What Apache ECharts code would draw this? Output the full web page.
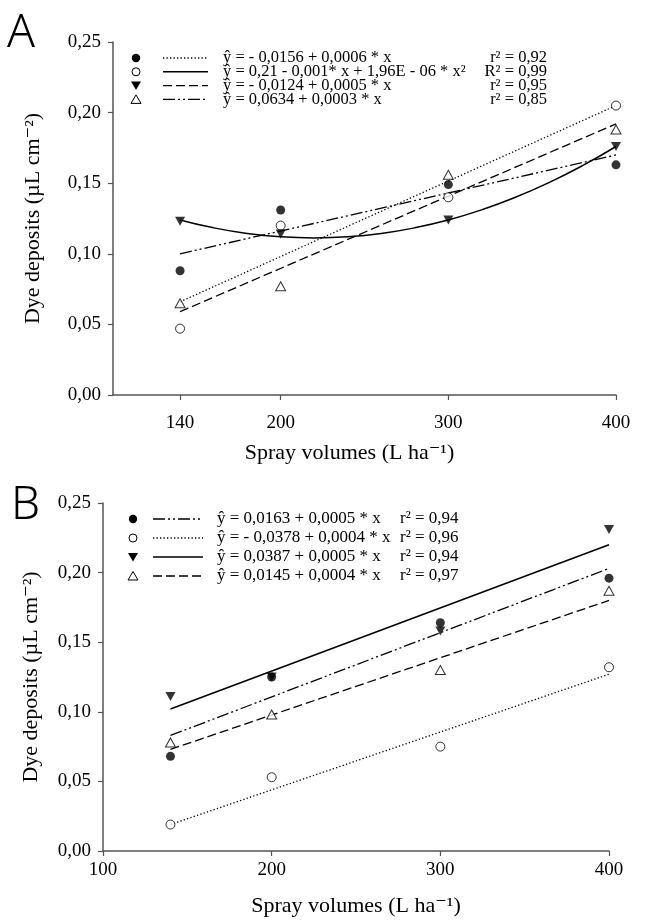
<!DOCTYPE html>
<html>
<head>
<meta charset="utf-8">
<script src="https://cdn.jsdelivr.net/npm/echarts@6/dist/echarts.min.js"></script>
<style>
html,body{margin:0;padding:0;background:#fff;}
#chart{width:650px;height:921px;}
</style>
</head>
<body>
<div id="chart"></div>
<script>
// ---------- DATA ----------
const volumes = [140, 200, 300, 400];
const xTicksA = [140, 200, 300, 400];
const xTicksB = [100, 200, 300, 400];
const yTicks = [0, 0.05, 0.10, 0.15, 0.20, 0.25];

// Panel A observed points
const A_filledCircle = [0.088, 0.131, 0.149, 0.163];
const A_openCircle   = [0.047, 0.120, 0.140, 0.205];
const A_triDown      = [0.123, 0.114, 0.124, 0.176];
const A_triUp        = [0.065, 0.077, 0.156, 0.188];
// Panel A fitted lines (values read at the line ends)
const A_fitX = [140, 400];
const A_fitDotted  = [0.066, 0.205];
const A_fitDashed  = [0.059, 0.192];
const A_fitDashDot = [0.100, 0.170];
// Panel A solid curve
const A_curveX = [140, 160, 180, 200, 220, 240, 260, 280, 300, 320, 340, 360, 380, 400];
const A_curveY = [0.124, 0.1184, 0.1144, 0.112, 0.1112, 0.112, 0.1144, 0.1184, 0.124, 0.1312, 0.140, 0.1504, 0.1624, 0.176];

// Panel B observed points
const B_filledCircle = [0.068, 0.125, 0.164, 0.196];
const B_openCircle   = [0.019, 0.053, 0.075, 0.132];
const B_triDown      = [0.111, 0.125, 0.158, 0.231];
const B_triUp        = [0.078, 0.098, 0.130, 0.187];
// Panel B fitted lines
const B_fitX = [140, 400];
const B_fitDashDot = [0.083, 0.203];
const B_fitDotted  = [0.019, 0.127];
const B_fitSolid   = [0.102, 0.220];
const B_fitDashed  = [0.073, 0.180];

// Legend texts
const legendA = [
  {sym:'fcircle', dash:'dotted',  eq:'ŷ = - 0,0156 + 0,0006 * x', r:'r² = 0,92'},
  {sym:'ocircle', dash:'solid',   eq:'ŷ = 0,21 - 0,001* x + 1,96E - 06 * x²', r:'R² = 0,99'},
  {sym:'tridown', dash:'dashed',  eq:'ŷ = - 0,0124 + 0,0005 * x', r:'r² = 0,95'},
  {sym:'triup',   dash:'dashdot', eq:'ŷ = 0,0634 + 0,0003 * x', r:'r² = 0,85'}
];
const legendB = [
  {sym:'fcircle', dash:'dashdot', eq:'ŷ = 0,0163 + 0,0005 * x', r:'r² = 0,94'},
  {sym:'ocircle', dash:'dotted',  eq:'ŷ = - 0,0378 + 0,0004 * x', r:'r² = 0,96'},
  {sym:'tridown', dash:'solid',   eq:'ŷ = 0,0387 + 0,0005 * x', r:'r² = 0,94'},
  {sym:'triup',   dash:'dashed',  eq:'ŷ = 0,0145 + 0,0004 * x', r:'r² = 0,97'}
];

// ---------- STYLE ----------
const SERIF = '"Liberation Serif", "DejaVu Serif", serif';
const DASH = {
  dotted: [1.3, 2.2],
  solid: 'solid',
  dashed: [9, 4],
  dashdot: [12, 3, 2, 3, 2, 3]
};
const SYM = {
  fcircle: {symbol:'circle', symbolSize:9, itemStyle:{color:'#000'}},
  ocircle: {symbol:'circle', symbolSize:9, itemStyle:{color:'#fff', borderColor:'#000', borderWidth:1}},
  tridown: {symbol:'triangle', symbolSize:[10,9], symbolRotate:180, itemStyle:{color:'#000'}},
  triup:   {symbol:'triangle', symbolSize:[10,9], itemStyle:{color:'#fff', borderColor:'#000', borderWidth:1}}
};

const zip = (xs, ys) => xs.map((x, i) => [x, ys[i]]);
const fmt = v => v.toFixed(2).replace('.', ',');

function yAxis(gi, gap) {
  return {
    type:'value', gridIndex:gi, min:0, max:0.25, interval:0.05,
    name:'Dye deposits (µL cm⁻²)', nameLocation:'middle', nameGap:gap,
    nameTextStyle:{fontFamily:SERIF, fontSize:22, color:'#000'},
    axisLine:{show:true, lineStyle:{color:'#555', width:1.5}},
    axisTick:{show:true, length:5, lineStyle:{color:'#555', width:1.2}},
    axisLabel:{fontFamily:SERIF, fontSize:19, color:'#000', margin:12, formatter:fmt},
    splitLine:{show:false}
  };
}

function scatter(gi, sym, ys) {
  return Object.assign({type:'scatter', xAxisIndex:gi, yAxisIndex:gi, data:zip(volumes, ys), z:5}, SYM[sym]);
}
function fit(gi, dash, xs, ys, smooth) {
  return {type:'line', xAxisIndex:gi, yAxisIndex:gi, data:zip(xs, ys), showSymbol:false, symbol:'none',
    smooth: !!smooth, lineStyle:{color:'#000', width: dash==='solid' ? 1.5 : 1.3, type:DASH[dash]}, z:3};
}

// Legend drawing
function legendGraphics(rows, cfg) {
  const els = [];
  rows.forEach((r, i) => {
    const y = cfg.y0 + i * cfg.dy;
    const mx = cfg.mx;
    if (r.sym === 'fcircle') els.push({type:'circle', shape:{cx:mx, cy:y, r:4.2}, style:{fill:'#000'}});
    if (r.sym === 'ocircle') els.push({type:'circle', shape:{cx:mx, cy:y, r:4}, style:{fill:'#fff', stroke:'#000', lineWidth:1}});
    if (r.sym === 'tridown') els.push({type:'polygon', shape:{points:[[mx-5,y-4],[mx+5,y-4],[mx,y+4.5]]}, style:{fill:'#000'}});
    if (r.sym === 'triup') els.push({type:'polygon', shape:{points:[[mx-5,y+4],[mx+5,y+4],[mx,y-4.5]]}, style:{fill:'#fff', stroke:'#000', lineWidth:1}});
    els.push({type:'line', shape:{x1:cfg.lx1, y1:y, x2:cfg.lx2, y2:y},
      style:{stroke:'#000', lineWidth: r.dash==='solid' ? 1.6 : 1.4, lineDash: r.dash==='solid' ? null : DASH[r.dash]}});
    els.push({type:'text', x:cfg.ex, y:y, style:{text:r.eq, fontFamily:SERIF, fontSize:cfg.fs, fill:'#000', verticalAlign:'middle', align:'left'}});
    els.push({type:'text', x:cfg.rx, y:y, style:{text:r.r, fontFamily:SERIF, fontSize:cfg.fs, fill:'#000', verticalAlign:'middle', align:cfg.ralign}});
  });
  return els;
}

const chart = echarts.init(document.getElementById('chart'), null, {renderer:'canvas'});
const option = {
  backgroundColor:'#fff',
  animation:false,
  grid:[
    {left:113, right:34, top:42, height:353},
    {left:103, right:41, top:503, height:348}
  ],
  xAxis:[
    {type:'value', gridIndex:0, min:100, max:400,
     name:'Spray volumes (L ha⁻¹)', nameLocation:'middle', nameGap:47,
     nameTextStyle:{fontFamily:SERIF, fontSize:22, color:'#000', padding:[0,30,0,0]},
     axisLine:{show:true, lineStyle:{color:'#555', width:1.5}},
     axisTick:{show:true, length:5, customValues:xTicksA, lineStyle:{color:'#555', width:1.2}},
     axisLabel:{fontFamily:SERIF, fontSize:19, color:'#000', margin:19, customValues:xTicksA},
     splitLine:{show:false}},
    {type:'value', gridIndex:1, min:100, max:400, interval:100,
     name:'Spray volumes (L ha⁻¹)', nameLocation:'middle', nameGap:44,
     nameTextStyle:{fontFamily:SERIF, fontSize:22, color:'#000'},
     axisLine:{show:true, lineStyle:{color:'#555', width:1.5}},
     axisTick:{show:true, length:5, lineStyle:{color:'#555', width:1.2}},
     axisLabel:{fontFamily:SERIF, fontSize:19, color:'#000', margin:10, customValues:xTicksB},
     splitLine:{show:false}}
  ],
  yAxis:[yAxis(0, 69), yAxis(1, 61)],
  series:[
    fit(0, 'dotted', A_fitX, A_fitDotted),
    fit(0, 'solid', A_curveX, A_curveY, true),
    fit(0, 'dashed', A_fitX, A_fitDashed),
    fit(0, 'dashdot', A_fitX, A_fitDashDot),
    scatter(0, 'fcircle', A_filledCircle),
    scatter(0, 'ocircle', A_openCircle),
    scatter(0, 'tridown', A_triDown),
    scatter(0, 'triup', A_triUp),

    fit(1, 'dashdot', B_fitX, B_fitDashDot),
    fit(1, 'dotted', B_fitX, B_fitDotted),
    fit(1, 'solid', B_fitX, B_fitSolid),
    fit(1, 'dashed', B_fitX, B_fitDashed),
    scatter(1, 'fcircle', B_filledCircle),
    scatter(1, 'ocircle', B_openCircle),
    scatter(1, 'tridown', B_triDown),
    scatter(1, 'triup', B_triUp)
  ],
  graphic:[
    {type:'text', x:7, y:34, style:{text:'A', fontFamily:'"Noto Sans", "DejaVu Sans", sans-serif', fontWeight:300, fontSize:46, fill:'#000', verticalAlign:'middle'}},
    {type:'text', x:11, y:506, style:{text:'B', fontFamily:'"Noto Sans", "DejaVu Sans", sans-serif', fontWeight:300, fontSize:46, fill:'#000', verticalAlign:'middle'}}
  ].concat(
    legendGraphics(legendA, {y0:58, dy:13.8, mx:136, lx1:163, lx2:208, ex:223, rx:547, ralign:'right', fs:16.5}),
    legendGraphics(legendB, {y0:519, dy:19, mx:133, lx1:153, lx2:203, ex:217, rx:400, ralign:'left', fs:17})
  )
};
chart.setOption(option);
</script>
</body>
</html>
